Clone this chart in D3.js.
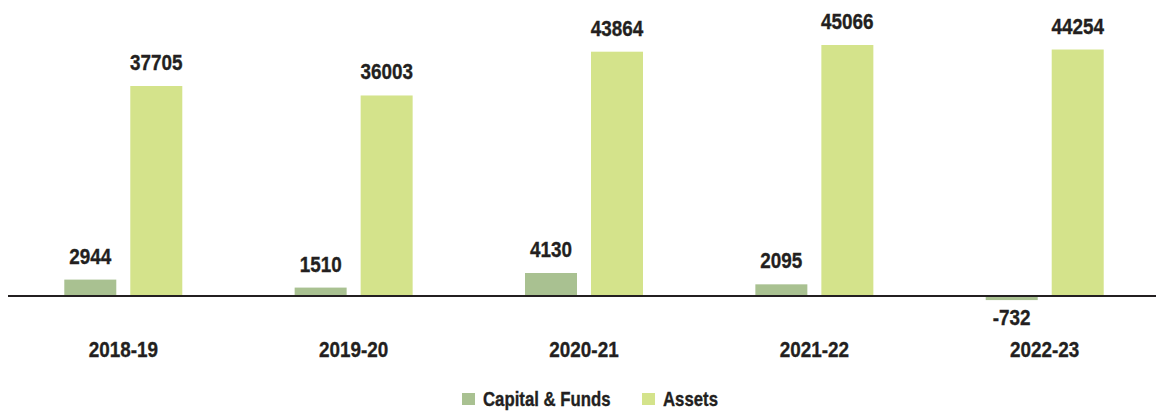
<!DOCTYPE html>
<html><head><meta charset="utf-8">
<script src="https://cdn.jsdelivr.net/npm/d3@7"></script>
<style>
html,body{margin:0;padding:0;background:#fff;}
svg{display:block;}
text{font-family:"Liberation Sans",Arial,sans-serif;font-weight:bold;fill:#231f20;stroke:#231f20;stroke-width:0.35px;}
</style></head>
<body>
<svg id="chart" width="1156" height="414"></svg>
<script>
const categories = ["2018-19","2019-20","2020-21","2021-22","2022-23"];
const capitalFunds = [2944,1510,4130,2095,-732];
const assets = [37705,36003,43864,45066,44254];
const seriesNames = ["Capital & Funds","Assets"];
const seriesColors = ["#a9c191","#d4e38b"];

const svg = d3.select("#chart");
const zeroY = 296;
const SX = 0.84; // horizontal condensing of the bold face

const x = d3.scaleBand().domain(categories).range([8, 1160]).paddingInner(0.487).paddingOuter(0.244);
const y = d3.scaleLinear().domain([0, 45066]).range([zeroY, zeroY - 251]);

const barW = 52, gap = 14;
const data = categories.map((c,i)=>({cat:c, vals:[capitalFunds[i], assets[i]]}));

const groups = svg.append("g").selectAll("g").data(data).join("g")
  .attr("transform", d => `translate(${x(d.cat) + x.bandwidth()/2 - (2*barW+gap)/2},0)`);

groups.selectAll("rect").data(d => d.vals.map((v,j)=>({v,j}))).join("rect")
  .attr("x", d => d.j*(barW+gap))
  .attr("width", barW)
  .attr("y", d => d.v >= 0 ? y(d.v) : y(0))
  .attr("height", d => Math.abs(y(d.v) - y(0)))
  .attr("fill", d => seriesColors[d.j]);

groups.selectAll("text.val").data(d => d.vals.map((v,j)=>({v,j}))).join("text")
  .attr("class","val")
  .attr("transform", d => `translate(${d.j*(barW+gap) + barW/2},${d.v >= 0 ? y(d.v) - 16 : y(d.v) + 25}) scale(${SX},1)`)
  .attr("text-anchor","middle")
  .style("font-size","22.5px")
  .text(d => d.v);

// axis line at zero
const axis = d3.axisBottom(x).tickSize(0).tickPadding(0);
const ax = svg.append("g").attr("transform",`translate(0,${y(0)})`).call(axis);
ax.select(".domain").attr("d", `M8,0H1156`).attr("stroke","#231f20").attr("stroke-width",2.2);
ax.selectAll(".tick text").attr("y", 0).attr("dy",0)
  .attr("transform", `translate(0,61) scale(${SX},1)`)
  .attr("font-family",null).attr("font-size",null)
  .style("font-size","22.5px").style("fill","#231f20");
ax.selectAll(".tick line").remove();

// legend
const legend = svg.append("g");
const legX = [462, 642];
seriesNames.forEach((n,i)=>{
  legend.append("rect").attr("x",legX[i]).attr("y",393).attr("width",13).attr("height",12).attr("fill",seriesColors[i]);
  legend.append("text").attr("transform",`translate(${legX[i]+21},406) scale(${SX+0.02},1)`).style("font-size","19.5px").text(n);
});
</script>
</body></html>
